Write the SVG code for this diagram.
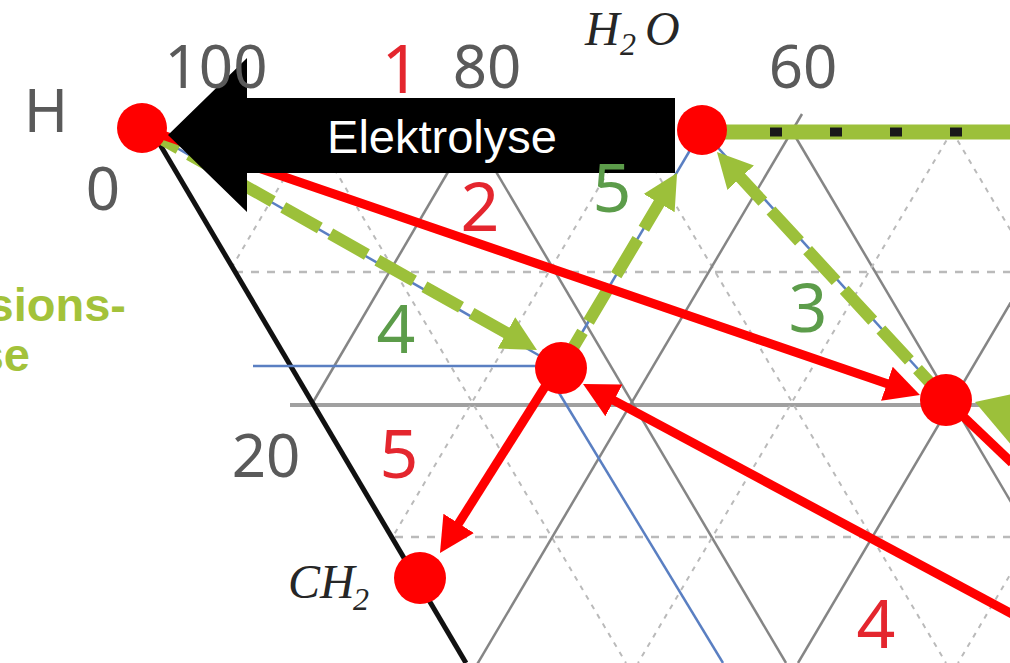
<svg xmlns="http://www.w3.org/2000/svg" width="1010" height="663" viewBox="0 0 1010 663">
<defs>
<style>
.maj{stroke:#858585;stroke-width:2.5;fill:none}
.min{stroke:#bababa;stroke-width:2;stroke-dasharray:5 6;fill:none}
.hmin{stroke:#bababa;stroke-width:2.5;stroke-dasharray:8 8;fill:none}
.hmaj{stroke:#a0a0a0;stroke-width:4;fill:none}
.edge{stroke:#111;stroke-width:5;fill:none}
.blue{stroke:#5a7fc2;stroke-width:2.5;fill:none}
.red{stroke:#ff0000;stroke-width:9;fill:none}
.grn{stroke:#9cc03a;stroke-width:12;stroke-dasharray:42 12;fill:none}
.dot{fill:#ff0000}
.lbl{font-family:"Noto Sans","Open Sans",sans-serif;fill:#5a5a5a;font-size:60px;text-anchor:middle}
.rn{font-family:"Noto Sans","Open Sans",sans-serif;fill:#e4262e;font-size:68px;text-anchor:middle}
.gn{font-family:"Noto Sans","Open Sans",sans-serif;fill:#5c9c4a;font-size:68px;text-anchor:middle}
.chem{font-family:"Liberation Serif",serif;font-style:italic;fill:#262626;font-size:48px}
.side{font-family:"Liberation Sans",Arial,sans-serif;font-weight:bold;fill:#a3c23a;font-size:47px;text-anchor:end}
</style>
<marker id="arR" markerUnits="userSpaceOnUse" markerWidth="40" markerHeight="40" viewBox="-5 -20 40 40" refX="0" refY="0" orient="auto">
<path d="M-5,-18 L30,0 L-5,18 z" fill="#ff0000"/>
</marker>
<marker id="arG" markerUnits="userSpaceOnUse" markerWidth="40" markerHeight="40" viewBox="-5 -20 40 40" refX="0" refY="0" orient="auto">
<path d="M-5,-18 L30,0 L-5,18 z" fill="#9cc03a"/>
</marker>
</defs>
<rect width="1010" height="663" fill="#ffffff"/>

<g id="grid">
<line class="hmin" x1="235" y1="272" x2="1010" y2="272"/>
<line class="hmaj" x1="290" y1="405" x2="1010" y2="405"/>
<line class="hmin" x1="395" y1="537" x2="1010" y2="537"/>
<line class="min" x1="312" y1="131" x2="626" y2="663"/>
<line class="maj" x1="472" y1="131" x2="786" y2="663"/>
<line class="min" x1="632" y1="131" x2="946" y2="663"/>
<line class="maj" x1="792" y1="131" x2="1106" y2="663"/>
<line class="min" x1="952" y1="131" x2="1266" y2="663"/>
<line class="min" x1="312" y1="131" x2="232" y2="267"/>
<line class="maj" x1="472" y1="131" x2="312" y2="404"/>
<line class="min" x1="632" y1="131" x2="392" y2="538"/>
<line class="maj" x1="802" y1="114" x2="472" y2="673"/>
<line class="min" x1="952" y1="131" x2="638" y2="663"/>
<line class="maj" x1="1112" y1="131" x2="798" y2="663"/>
<line class="min" x1="1272" y1="131" x2="958" y2="663"/>
<line class="edge" x1="152" y1="131" x2="466" y2="663"/>
</g>

<g id="blue-lines">
<line class="blue" x1="142" y1="128" x2="561" y2="368"/>
<line class="blue" x1="561" y1="368" x2="702" y2="130"/>
<line class="blue" x1="702" y1="130" x2="946" y2="400"/>
<line class="blue" x1="253" y1="366" x2="550" y2="366"/>
<line class="blue" x1="550" y1="378" x2="723" y2="663"/>
</g>

<g id="connectors">
<line x1="702" y1="132" x2="1012" y2="132" stroke="#9cc03a" stroke-width="15"/>
<line x1="770" y1="132" x2="1012" y2="132" stroke="#1a1a1a" stroke-width="9" stroke-dasharray="12 48"/>
<line class="grn" x1="142" y1="128" x2="510.8" y2="335.3" marker-end="url(#arG)"/>
<line class="grn" x1="561" y1="368" x2="661.7" y2="198.8" marker-end="url(#arG)"/>
<line class="grn" x1="946" y1="400" x2="737.3" y2="174" marker-end="url(#arG)"/>
<polygon points="975,402 1012,394 1012,446" fill="#9cc03a"/>
<line class="red" x1="142" y1="128" x2="891.6" y2="385.3" marker-end="url(#arR)"/>
<line class="red" x1="1042" y1="630" x2="609.5" y2="398.1" marker-end="url(#arR)"/>
<line class="red" x1="548" y1="382" x2="456" y2="527.6" marker-end="url(#arR)"/>
<line class="red" x1="946" y1="400" x2="1012" y2="463"/>
</g>

<g id="node-H"><circle class="dot" cx="142" cy="128" r="25"/></g>
<g id="node-H2O"><circle class="dot" cx="702" cy="130" r="25"/></g>
<g id="node-mid"><circle class="dot" cx="561" cy="368" r="26"/></g>
<g id="node-right"><circle class="dot" cx="946" cy="400" r="26"/></g>
<g id="node-CH2"><circle class="dot" cx="420" cy="578" r="26"/></g>

<g id="elektrolyse">
<polygon points="168,135 247,58 247,98 675,98 675,173 247,173 247,212" fill="#000000"/>
<text x="442" y="153" font-family="'Liberation Sans',Arial,sans-serif" font-size="47" fill="#ffffff" text-anchor="middle">Elektrolyse</text>
</g>

<g id="labels">
<text class="lbl" x="46" y="132" font-size="80">H</text>
<text class="lbl" x="216" y="88">100</text>
<text class="lbl" x="487" y="88">80</text>
<text class="lbl" x="803" y="88">60</text>
<text class="lbl" x="103" y="210">0</text>
<text class="lbl" x="266" y="477">20</text>
<text class="rn" x="401" y="93">1</text>
<text class="rn" x="480" y="231">2</text>
<text class="rn" x="399" y="478">5</text>
<text class="rn" x="876" y="648">4</text>
<text class="gn" x="612" y="212">5</text>
<text class="gn" x="396" y="353">4</text>
<text class="gn" x="808" y="332">3</text>
<text class="chem"><tspan x="585" y="45">H</tspan><tspan x="620" y="55" font-size="32">2</tspan><tspan x="645" y="45">O</tspan></text>
<text class="chem"><tspan x="288" y="598">CH</tspan><tspan x="353" y="610" font-size="32">2</tspan></text>
<text class="side" x="126" y="321">sions-</text>
<text class="side" x="30" y="371">se</text>
</g>
</svg>
